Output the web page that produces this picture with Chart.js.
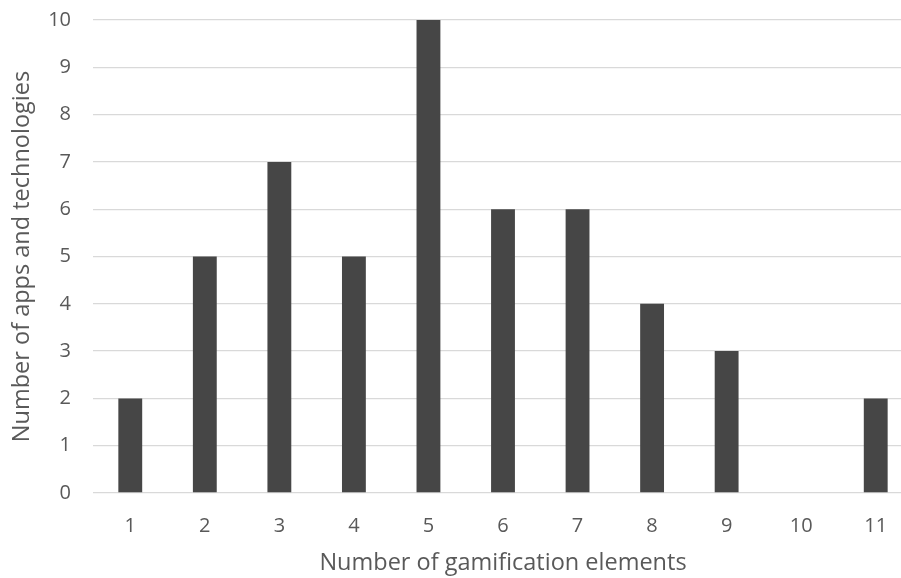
<!DOCTYPE html>
<html>
<head>
<meta charset="utf-8">
<script src="https://cdn.jsdelivr.net/npm/chart.js@4"></script>
<style>
  html, body { margin: 0; padding: 0; background: #fff; overflow: hidden; }
  #wrap { width: 920px; height: 578px; }
</style>
</head>
<body>
<div id="wrap"><canvas id="c" width="920" height="578"></canvas></div>
<script>
// Number of gamification elements per app/technology
const categories = ['1', '2', '3', '4', '5', '6', '7', '8', '9', '10', '11'];
const counts = [2, 5, 7, 5, 10, 6, 6, 4, 3, 0, 2];
const yTicks = [0, 1, 2, 3, 4, 5, 6, 7, 8, 9, 10];

const textColor = '#595959';
const fontFamily = '"Open Sans", "Noto Sans", sans-serif';

new Chart(document.getElementById('c'), {
  type: 'bar',
  data: {
    labels: categories,
    datasets: [{
      data: counts,
      backgroundColor: '#464646',
      borderWidth: 0,
      barPercentage: 0.32,
      categoryPercentage: 1.0
    }]
  },
  options: {
    responsive: false,
    animation: false,
    layout: { padding: { top: 20, right: 7, left: 0, bottom: 0 } },
    plugins: { legend: { display: false }, tooltip: { enabled: false } },
    scales: {
      x: {
        grid: { display: false, drawTicks: false },
        border: { display: false },
        ticks: { color: textColor, font: { family: fontFamily, size: 20 }, padding: 21 },
        title: {
          display: true,
          text: 'Number of gamification elements',
          color: textColor,
          font: { family: fontFamily, size: 23.5 },
          padding: { top: 0, bottom: 1 }
        },
        afterFit: s => { s.height = 85; s.paddingLeft = 0; s.paddingRight = 0; }
      },
      y: {
        min: 0,
        max: 10,
        afterBuildTicks: s => { s.ticks = yTicks.map(v => ({ value: v })); },
        grid: { color: '#d9d9d9', lineWidth: 1.3, drawTicks: false },
        border: { display: false },
        ticks: { color: textColor, font: { family: fontFamily, size: 20 }, padding: 22 },
        title: {
          display: true,
          text: 'Number of apps and technologies',
          color: textColor,
          font: { family: fontFamily, size: 23.5 },
          padding: { top: 8, bottom: 0 }
        },
        afterFit: s => { s.width = 93; s.paddingTop = 0; s.paddingBottom = 0; }
      }
    }
  }
});
</script>
</body>
</html>
